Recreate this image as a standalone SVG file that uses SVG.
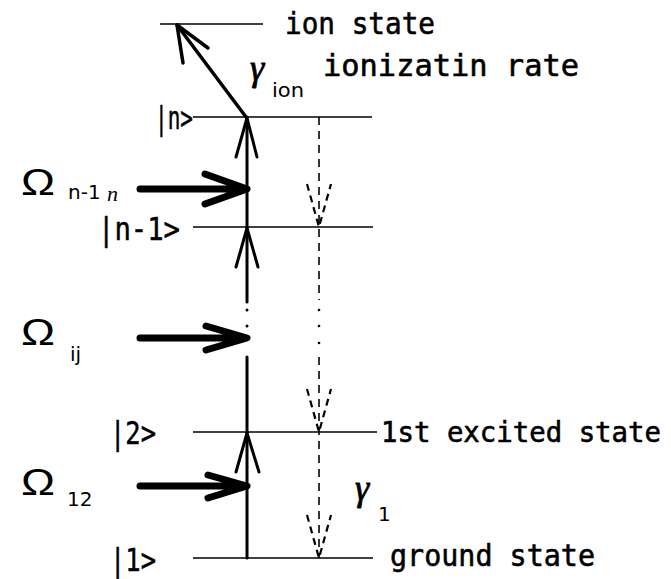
<svg xmlns="http://www.w3.org/2000/svg" width="671" height="579" viewBox="0 0 671 579">
<style>
.lvl{stroke:#000;stroke-width:1.6;fill:none}
.sol{stroke:#000;stroke-width:3;fill:none;stroke-linecap:round;stroke-linejoin:round}
.pump{stroke:#000;stroke-width:7;fill:none;stroke-linecap:round;stroke-linejoin:round}
.dash{stroke:#000;stroke-width:1.6;fill:none;stroke-dasharray:8 6}
.dhead{stroke:#000;stroke-width:2.2;fill:none;stroke-dasharray:7 5}
.lab{font-family:"DejaVu Sans Mono","Liberation Mono",monospace;font-size:31px;fill:#000;stroke:#000;stroke-width:0.6}
.ket{font-family:"DejaVu Sans Mono","Liberation Mono",monospace;font-size:32px;fill:#000;stroke:#000;stroke-width:0.5}
.om{font-family:"Liberation Sans","DejaVu Sans",sans-serif;font-size:36px;fill:#000}
.sub{font-family:"Liberation Serif",serif;font-style:italic;font-size:22px;fill:#000}
.subs{font-family:"DejaVu Sans","Liberation Sans",sans-serif;font-size:20px;fill:#000}
.gam{font-family:"Liberation Serif",serif;font-style:italic;font-size:36px;fill:#000;stroke:#000;stroke-width:0.8}
</style>
<rect width="671" height="579" fill="#fff"/>
<g id="levels">
<g id="ion-state"><line class="lvl" x1="160" y1="24" x2="263" y2="24"/><text class="lab" x="285" y="34" textLength="150" lengthAdjust="spacingAndGlyphs">ion state</text></g>
<g id="level-n"><line class="lvl" x1="193" y1="117" x2="372" y2="117"/><text class="ket" x="155" y="129" textLength="38" lengthAdjust="spacingAndGlyphs">|n&gt;</text></g>
<g id="level-n-1"><line class="lvl" x1="193" y1="227" x2="373" y2="227"/><text class="ket" x="98" y="240" textLength="82" lengthAdjust="spacingAndGlyphs">|n-1&gt;</text></g>
<g id="level-2"><line class="lvl" x1="193" y1="432" x2="377" y2="432"/><text class="ket" x="110" y="444" textLength="46" lengthAdjust="spacingAndGlyphs">|2&gt;</text><text class="lab" x="381" y="442" textLength="280" lengthAdjust="spacingAndGlyphs" style="font-size:28px">1st excited state</text></g>
<g id="level-1"><line class="lvl" x1="193" y1="558" x2="373" y2="558"/><text class="ket" x="110" y="571" textLength="46" lengthAdjust="spacingAndGlyphs">|1&gt;</text><text class="lab" x="390" y="566" textLength="205" lengthAdjust="spacingAndGlyphs">ground state</text></g>
</g>
<g id="labels">
<g id="omega-n"><text class="om" x="21" y="195" textLength="34" lengthAdjust="spacingAndGlyphs">Ω</text><text class="subs" x="68" y="199">n-1</text><text class="sub" x="107" y="201">n</text></g>
<g id="omega-ij"><text class="om" x="21" y="345" textLength="34" lengthAdjust="spacingAndGlyphs">Ω</text><text class="subs" x="70" y="361">ij</text></g>
<g id="omega-12"><text class="om" x="21" y="495" textLength="34" lengthAdjust="spacingAndGlyphs">Ω</text><text class="subs" x="67" y="506">12</text></g>
<g id="gamma-ion"><text class="gam" x="250" y="80">γ</text><text class="subs" x="272" y="97" textLength="32" lengthAdjust="spacingAndGlyphs">ion</text><text class="lab" x="323" y="76" textLength="256" lengthAdjust="spacingAndGlyphs">ionizatin rate</text></g>
<g id="gamma-1"><text class="gam" x="355" y="500">γ</text><text class="subs" x="378" y="521">1</text></g>
</g>
<g id="connectors">
<path class="sol" d="M247 558 V357 M247 302 V117"/>
<circle cx="247" cy="310" r="1.5"/><circle cx="247" cy="326" r="1.5"/>
<path class="sol" d="M236 157 L247 118 L257 157"/>
<path class="sol" d="M236 267 L247 228 L258 267"/>
<path class="sol" d="M236 472 L247 433 L259 472"/>
<path class="sol" d="M246 117 L177 25" style="stroke-width:3.5"/>
<path class="sol" d="M208 48 L177 25 L183 63" style="stroke-width:3.5"/>
<path class="pump" d="M140 189 H245 M205 174 L247 189 L205 204"/>
<path class="pump" d="M140 338 H245 M206 326 L247 338 L206 350"/>
<path class="pump" d="M140 486 H245 M208 475 L247 486 L208 498"/>
<path class="dash" d="M319 117 V300 M319 357 V558"/>
<circle cx="319" cy="310" r="1.3"/><circle cx="319" cy="326" r="1.3"/><circle cx="319" cy="343" r="1.3"/>
<path class="dhead" d="M307 184 L319 227 L331 184"/>
<path class="dhead" d="M307 389 L319 432 L331 389"/>
<path class="dhead" d="M307 515 L319 558 L331 515"/>
</g>
</svg>
